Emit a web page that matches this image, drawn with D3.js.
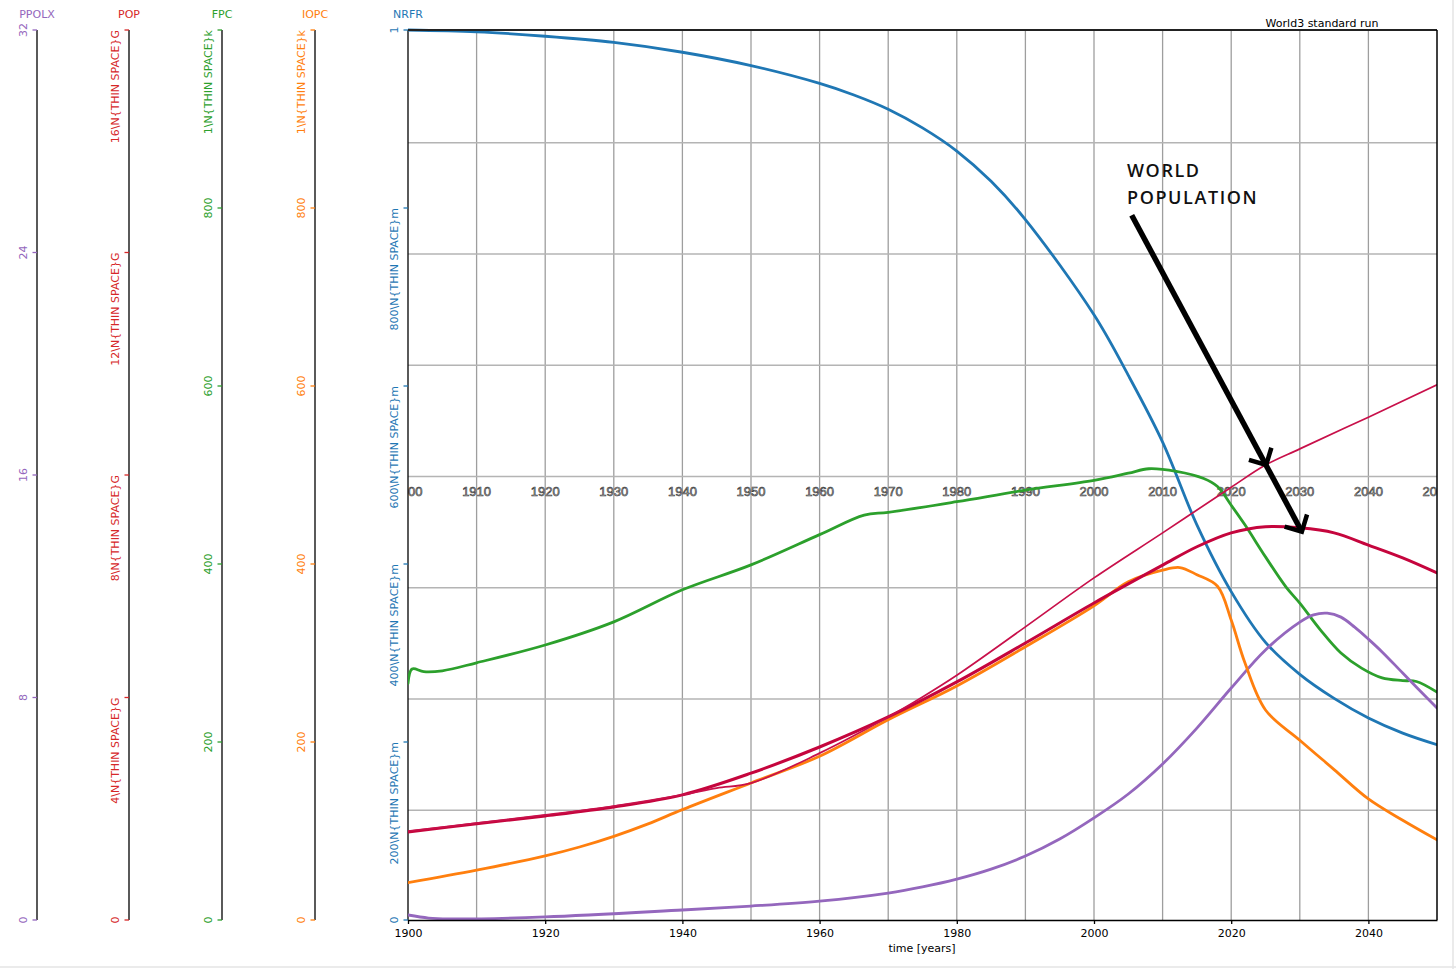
<!DOCTYPE html>
<html>
<head>
<meta charset="utf-8">
<script src="https://cdn.jsdelivr.net/npm/d3@7"></script>
<style>
  html, body { margin: 0; padding: 0; background: #fff; }
  svg { display: block; }
  text { font-family: "DejaVu Sans", sans-serif; }
</style>
</head>
<body>
<svg id="chart" width="1456" height="969"></svg>
<script>
// ---------------- DATA ----------------
const years_nrfr = [1900,1910,1920,1930,1940,1950,1960,1965,1970,1975,1980,1985,1990,2000,2005,2010,2015,2020,2025,2030,2035,2040,2045,2050];
const nrfr       = [1.0,0.998,0.993,0.986,0.975,0.960,0.940,0.927,0.911,0.890,0.864,0.830,0.787,0.680,0.612,0.537,0.444,0.369,0.312,0.276,0.249,0.227,0.210,0.197];

const years_fpc = [1900,1900.6,1902.3,1905,1910,1920,1930,1940,1950,1960,1966.5,1970,1980,1990,2000,2005,2008,2012,2016,2018,2020,2022,2025,2028,2030,2033,2036,2039,2042,2045,2047,2050];
const fpc       = [266,282,279,280,289,309,335,371,399,433,455,458,470,483,494,502,507,504,496,487,466,444,408,374,356,326,300,283,272,269,268,256];

const years_iopc = [1900,1910,1920,1925,1930,1935,1940,1950,1960,1970,1980,1990,2000,2005,2010,2012.5,2015,2018,2020,2022,2025,2030,2035,2040,2045,2050];
const iopc       = [42,56,72,82,94,108,124,154,184,225,263,307,353,380,393,396,388,375,337,289,236,202,169,136,112,90];

const years_pop = [1900,1910,1920,1930,1940,1950,1960,1970,1980,1990,2000,2010,2015,2020,2025,2030,2035,2040,2045,2050];
const pop       = [1.58,1.73,1.87,2.03,2.25,2.64,3.11,3.65,4.28,4.98,5.70,6.38,6.71,6.96,7.07,7.05,6.96,6.74,6.51,6.24];

const years_popOverlay = [1900,1910,1920,1930,1940,1945,1950,1960,1970,1975,1980,1990,2000,2010,2020,2025,2030,2040,2050];
const popOverlay       = [1.60,1.74,1.89,2.05,2.25,2.37,2.46,3.00,3.65,4.01,4.40,5.27,6.15,6.96,7.78,8.18,8.47,9.04,9.62];

const years_ppolx = [1900,1903,1906,1920,1940,1950,1960,1970,1975,1980,1985,1990,1995,2000,2005,2010,2015,2020,2025,2030,2032,2034,2036,2038,2040,2042,2045,2050];
const ppolx       = [0.18,0.07,0.04,0.11,0.36,0.50,0.68,0.97,1.19,1.47,1.83,2.30,2.91,3.67,4.53,5.61,6.90,8.34,9.71,10.71,10.97,11.03,10.89,10.53,10.10,9.64,8.88,7.62];

// Axis ticks / labels
const ppolxTicks = [0,8,16,24,32];
const ppolxLabels = ["0","8","16","24","32"];
const popTicks = [0,4,8,12,16];
const popLabels = ["0","4\\N{THIN SPACE}G","8\\N{THIN SPACE}G","12\\N{THIN SPACE}G","16\\N{THIN SPACE}G"];
const fpcTicks = [0,200,400,600,800,1000];
const fpcLabels = ["0","200","400","600","800","1\\N{THIN SPACE}k"];
const iopcTicks = [0,200,400,600,800,1000];
const iopcLabels = ["0","200","400","600","800","1\\N{THIN SPACE}k"];
const nrfrTicks = [0,0.2,0.4,0.6,0.8,1];
const nrfrLabels = ["0","200\\N{THIN SPACE}m","400\\N{THIN SPACE}m","600\\N{THIN SPACE}m","800\\N{THIN SPACE}m","1"];

const xTicks = [1900,1920,1940,1960,1980,2000,2020,2040];
const gridYears = [1910,1920,1930,1940,1950,1960,1970,1980,1990,2000,2010,2020,2030,2040];
const gridLevels = [4,8,12,16,20,24,28];
const overlayYears = [1900,1910,1920,1930,1940,1950,1960,1970,1980,1990,2000,2010,2020,2030,2040,2050];

const title = "World3 standard run";
const xTitle = "time [years]";
const annotation = ["WORLD", "POPULATION"];

// ---------------- LAYOUT ----------------
const svg = d3.select("#chart");
const W = 1456, H = 969;
const plotL = 408, plotR = 1437, plotT = 30, plotB = 920;

svg.append("rect").attr("width", W).attr("height", H).attr("fill", "#fff");
svg.append("line").attr("x1", 1453).attr("x2", 1453).attr("y1", 0).attr("y2", H).attr("stroke", "#e4e4e4").attr("stroke-width", 1.5);
svg.append("line").attr("x1", 0).attr("x2", W).attr("y1", 967).attr("y2", 967).attr("stroke", "#e4e4e4").attr("stroke-width", 1.5);

const x = d3.scaleLinear().domain([1900, 2050]).range([plotL, plotR]);
const yPPOLX = d3.scaleLinear().domain([0, 32]).range([plotB, plotT]);
const yPOP = d3.scaleLinear().domain([0, 16]).range([plotB, plotT]);
const yFPC = d3.scaleLinear().domain([0, 1000]).range([plotB, plotT]);
const yIOPC = d3.scaleLinear().domain([0, 1000]).range([plotB, plotT]);
const yNRFR = d3.scaleLinear().domain([0, 1]).range([plotB, plotT]);

const colors = {
  ppolx: "#9467bd", pop: "#d62728", popLine: "#c5053d", fpc: "#2ca02c",
  iopc: "#ff7f0e", nrfr: "#1f77b4", overlay: "#c8104a"
};

svg.append("defs").append("clipPath").attr("id", "plotclip")
  .append("rect").attr("x", plotL).attr("y", plotT - 2).attr("width", plotR - plotL).attr("height", plotB - plotT + 4);

// ---------------- GRID ----------------
const grid = svg.append("g");
grid.selectAll("line.v").data(gridYears).join("line")
  .attr("x1", d => x(d)).attr("x2", d => x(d))
  .attr("y1", plotT).attr("y2", plotB)
  .attr("stroke", "#9e9e9e").attr("stroke-width", 1.3);
grid.selectAll("line.h").data(gridLevels).join("line")
  .attr("x1", plotL).attr("x2", plotR)
  .attr("y1", d => yPPOLX(d) + 1.5).attr("y2", d => yPPOLX(d) + 1.5)
  .attr("stroke", "#b4b4b4").attr("stroke-width", 1.3);

// overlay decade labels (clipped)
svg.append("g").attr("clip-path", "url(#plotclip)")
  .selectAll("text").data(overlayYears).join("text")
  .attr("x", d => x(d)).attr("y", 496)
  .attr("text-anchor", "middle")
  .style("font-family", "'Liberation Sans', Arial, sans-serif")
  .style("font-size", "13px")
  .attr("fill", "#c4c4c4").attr("stroke", "#333").attr("stroke-width", 0.6)
  .text(d => d);

// ---------------- SIDE AXES ----------------
const sideAxes = [
  { name: "PPOLX", x: 37, scale: yPPOLX, ticks: ppolxTicks, labels: ppolxLabels, color: colors.ppolx },
  { name: "POP", x: 129, scale: yPOP, ticks: popTicks, labels: popLabels, color: colors.pop },
  { name: "FPC", x: 222, scale: yFPC, ticks: fpcTicks, labels: fpcLabels, color: colors.fpc },
  { name: "IOPC", x: 315, scale: yIOPC, ticks: iopcTicks, labels: iopcLabels, color: colors.iopc },
  { name: "NRFR", x: 408, scale: yNRFR, ticks: nrfrTicks, labels: nrfrLabels, color: colors.nrfr }
];

sideAxes.forEach(a => {
  const g = svg.append("g");
  g.append("line").attr("x1", a.x).attr("x2", a.x).attr("y1", plotT).attr("y2", plotB)
    .attr("stroke", "#000").attr("stroke-width", 1.3);
  g.append("text").attr("x", a.x).attr("y", 18).attr("text-anchor", "middle")
    .attr("fill", a.color).style("font-size", "11px").text(a.name);
  a.ticks.forEach((t, i) => {
    const ty = a.scale(t);
    g.append("line").attr("x1", a.x - 4.5).attr("x2", a.x).attr("y1", ty).attr("y2", ty)
      .attr("stroke", a.color).attr("stroke-width", 1.3);
    const lab = a.labels[i];
    const isLong = lab.indexOf("\\N") >= 0;
    g.append("text")
      .attr("transform", `translate(${a.x - 10},${ty}) rotate(-90)`)
      .attr("text-anchor", isLong ? "end" : "middle")
      .attr("fill", a.color).style("font-size", "11px")
      .text(lab);
  });
});

// ---------------- SERIES ----------------
const plotG = svg.append("g").attr("clip-path", "url(#plotclip)");
function drawLine(xs, ys, yScale, color, width) {
  const pts = xs.map((d, i) => [d, ys[i]]);
  const line = d3.line().x(d => x(d[0])).y(d => yScale(d[1])).curve(d3.curveCatmullRom.alpha(0.5));
  plotG.append("path").attr("d", line(pts)).attr("fill", "none")
    .attr("stroke", color).attr("stroke-width", width)
    .attr("stroke-linejoin", "round").attr("stroke-linecap", "round");
}
drawLine(years_nrfr, nrfr, yNRFR, colors.nrfr, 2.8);
drawLine(years_fpc, fpc, yFPC, colors.fpc, 2.8);
drawLine(years_ppolx, ppolx, yPPOLX, colors.ppolx, 2.8);
drawLine(years_iopc, iopc, yIOPC, colors.iopc, 2.8);
drawLine(years_pop, pop, yPOP, colors.popLine, 3);
drawLine(years_popOverlay, popOverlay, yPOP, colors.overlay, 1.7);

// ---------------- FRAME & X AXIS ----------------
svg.append("line").attr("x1", plotL).attr("x2", plotR).attr("y1", plotT).attr("y2", plotT)
  .attr("stroke", "#222").attr("stroke-width", 2);
svg.append("line").attr("x1", plotR).attr("x2", plotR).attr("y1", plotT).attr("y2", plotB)
  .attr("stroke", "#000").attr("stroke-width", 1.5);

const xAxis = d3.axisBottom(x).tickValues(xTicks).tickFormat(d3.format("d")).tickSize(4).tickSizeOuter(0);
const xg = svg.append("g").attr("transform", `translate(0,${plotB})`).call(xAxis);
xg.select(".domain").attr("stroke", "#000").attr("stroke-width", 1.5);
xg.selectAll(".tick line").attr("stroke", "#000").attr("stroke-width", 1.3);
xg.selectAll(".tick text").attr("fill", "#000").style("font-size", "11px")
  .style("font-family", "'DejaVu Sans', sans-serif").attr("dy", "0.9em");

svg.append("text").attr("x", 922).attr("y", 952).attr("text-anchor", "middle")
  .style("font-size", "11px").attr("fill", "#000").text(xTitle);

svg.append("text").attr("x", 1322).attr("y", 27).attr("text-anchor", "middle")
  .style("font-size", "11px").attr("fill", "#000").text(title);

// ---------------- ANNOTATION ----------------
const ann = svg.append("g");
ann.selectAll("text").data(annotation).join("text")
  .attr("x", 1127).attr("y", (d, i) => 177 + i * 27)
  .style("font-family", "'Open Sans', sans-serif").style("font-weight", "600")
  .style("font-size", "18px").style("letter-spacing", "1.6px")
  .attr("fill", "#111").text(d => d);

const arrowStart = [2005.5, 12.67];
const arrowMid = [2025.1, 8.18];
const arrowEnd = [2030.3, 6.98];
const p0 = [x(arrowStart[0]), yPOP(arrowStart[1])];
const p1 = [x(arrowMid[0]), yPOP(arrowMid[1])];
const p2 = [x(arrowEnd[0]), yPOP(arrowEnd[1])];
ann.append("line").attr("x1", p0[0]).attr("y1", p0[1]).attr("x2", p2[0]).attr("y2", p2[1])
  .attr("stroke", "#000").attr("stroke-width", 5.5);
function head(p) {
  const ang = Math.atan2(p2[1] - p0[1], p2[0] - p0[0]);
  const L = 18;
  const a1 = ang + Math.PI - Math.PI / 4, a2 = ang + Math.PI + Math.PI / 4;
  const pth = `M${p[0] + L * Math.cos(a1)},${p[1] + L * Math.sin(a1)} L${p[0]},${p[1]} L${p[0] + L * Math.cos(a2)},${p[1] + L * Math.sin(a2)}`;
  ann.append("path").attr("d", pth).attr("fill", "none").attr("stroke", "#000")
    .attr("stroke-width", 4.5).attr("stroke-linejoin", "miter");
}
head(p1);
head(p2);
</script>
</body>
</html>
